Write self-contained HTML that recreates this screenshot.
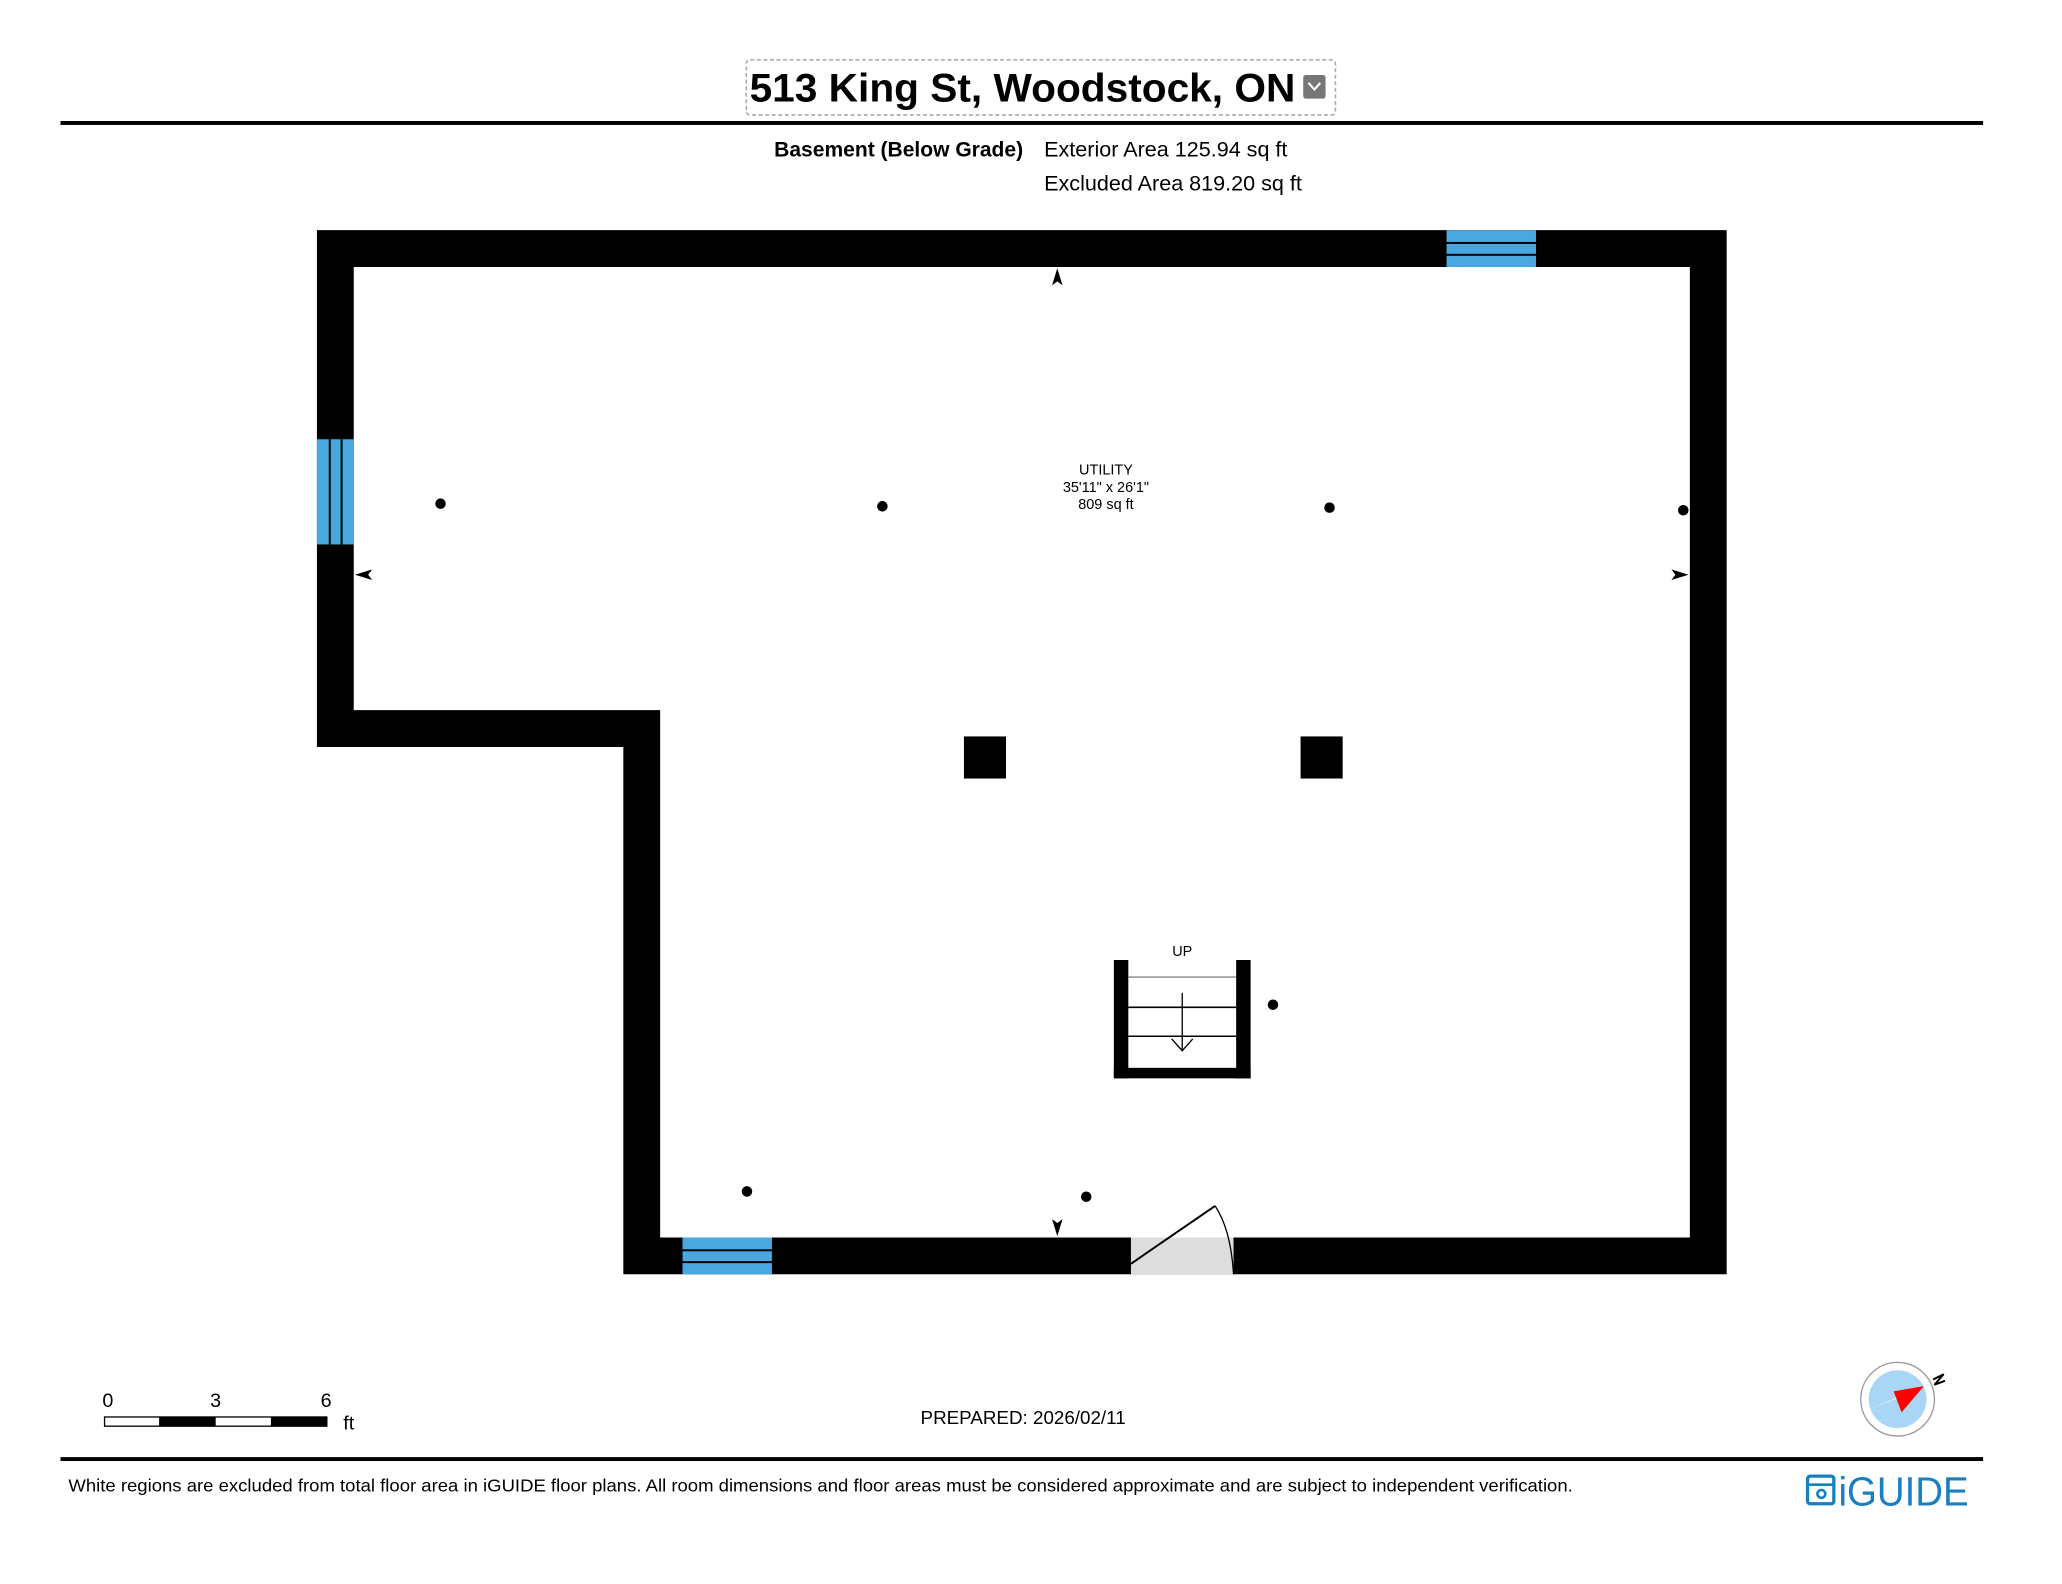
<!DOCTYPE html>
<html><head><meta charset="utf-8"><style>
html,body{margin:0;padding:0;background:#fff;}
svg{display:block;}
text{font-family:"Liberation Sans",Arial,sans-serif;}
</style></head><body>
<svg width="2062" height="1584" viewBox="0 0 1568 1204.5" xmlns="http://www.w3.org/2000/svg">
<rect x="0" y="0" width="1568" height="1204.5" fill="#fff"/>
<!-- header -->
<rect x="567.5" y="45.5" width="448" height="42" rx="3" fill="none" stroke="#aaa" stroke-width="1.2" stroke-dasharray="3,2"/>
<text x="570" y="77" font-size="30" font-weight="bold" textLength="415" lengthAdjust="spacingAndGlyphs" fill="#000">513 King St, Woodstock, ON</text>
<rect x="991" y="57" width="17" height="18" rx="2" fill="#777"/>
<path d="M995 63 L999.5 68 L1004 63" fill="none" stroke="#fff" stroke-width="1.6"/>
<rect x="46" y="92" width="1462" height="3" fill="#000"/>
<text x="778" y="119" font-size="16" font-weight="bold" text-anchor="end">Basement (Below Grade)</text>
<text x="794" y="119" font-size="16" textLength="185" lengthAdjust="spacingAndGlyphs">Exterior Area 125.94 sq ft</text>
<text x="794" y="145" font-size="16" textLength="196" lengthAdjust="spacingAndGlyphs">Excluded Area 819.20 sq ft</text>
<!-- walls -->
<path d="M241 175 H1313 V969 H474 V568 H241 Z M269 203 V540 H502 V941 H1285 V203 Z" fill="#000" fill-rule="evenodd"/>
<!-- windows -->
<rect x="1100" y="175" width="68" height="28" fill="#4aa8e0"/>
<rect x="1100" y="184" width="68" height="1.5" fill="#000"/>
<rect x="1100" y="193" width="68" height="1.5" fill="#000"/>
<rect x="241" y="334" width="28" height="80" fill="#4aa8e0"/>
<rect x="250" y="334" width="1.5" height="80" fill="#000"/>
<rect x="259" y="334" width="1.5" height="80" fill="#000"/>
<rect x="519" y="941" width="68" height="28" fill="#4aa8e0"/>
<rect x="519" y="950" width="68" height="1.5" fill="#000"/>
<rect x="519" y="959" width="68" height="1.5" fill="#000"/>
<!-- door -->
<rect x="860" y="941" width="78" height="28" fill="#ddd"/>
<line x1="860" y1="961" x2="924" y2="917" stroke="#000" stroke-width="1.5"/>
<path d="M924 917 Q936 935 938 969" fill="none" stroke="#000" stroke-width="1"/>
<!-- arrows -->
<path d="M804 204 L808 217 L804 214 L800 217 Z" fill="#000"/>
<path d="M804 940 L808 927 L804 930 L800 927 Z" fill="#000"/>
<path d="M270 437 L283 433 L280 437 L283 441 Z" fill="#000"/>
<path d="M1284 437 L1271 433 L1274 437 L1271 441 Z" fill="#000"/>
<!-- dots -->
<g fill="#000">
<circle cx="335" cy="383" r="4"/><circle cx="671" cy="385" r="4"/><circle cx="1011" cy="386" r="4"/><circle cx="1280" cy="388" r="4"/>
<circle cx="968" cy="764" r="4"/><circle cx="568" cy="906" r="4"/><circle cx="826" cy="910" r="4"/>
<rect x="733" y="560" width="32" height="32"/><rect x="989" y="560" width="32" height="32"/>
</g>
<text x="841" y="361" font-size="11" text-anchor="middle">UTILITY</text>
<text x="841" y="374" font-size="11" text-anchor="middle">35'11" x 26'1"</text>
<text x="841" y="387" font-size="11" text-anchor="middle">809 sq ft</text>
<!-- stairs -->
<text x="899" y="727" font-size="11" text-anchor="middle">UP</text>
<rect x="847" y="730" width="11" height="90" fill="#000"/>
<rect x="940" y="730" width="11" height="90" fill="#000"/>
<rect x="847" y="812" width="104" height="8" fill="#000"/>
<line x1="858" y1="743" x2="940" y2="743" stroke="#888" stroke-width="1"/>
<line x1="858" y1="766" x2="940" y2="766" stroke="#000" stroke-width="1.2"/>
<line x1="858" y1="788" x2="940" y2="788" stroke="#000" stroke-width="1.2"/>
<line x1="899" y1="755" x2="899" y2="799" stroke="#000" stroke-width="1"/>
<path d="M891 790 L899 799 L907 790" fill="none" stroke="#000" stroke-width="1"/>
<!-- scale -->
<text x="82" y="1070" font-size="15" text-anchor="middle">0</text>
<text x="164" y="1070" font-size="15" text-anchor="middle">3</text>
<text x="248" y="1070" font-size="15" text-anchor="middle">6</text>
<rect x="79.5" y="1077.5" width="169" height="7" fill="#fff" stroke="#000" stroke-width="1"/>
<rect x="121" y="1077.5" width="43" height="7" fill="#000"/>
<rect x="206" y="1077.5" width="43" height="7" fill="#000"/>
<text x="261" y="1087" font-size="15">ft</text>
<text x="700" y="1083" font-size="14" textLength="156" lengthAdjust="spacingAndGlyphs">PREPARED: 2026/02/11</text>
<!-- compass -->
<circle cx="1443" cy="1064" r="28" fill="#fff" stroke="#999" stroke-width="1"/>
<circle cx="1443" cy="1064" r="22" fill="#aad6f5"/>
<path d="M1423 1071 L1463 1054 L1441 1064 Z" fill="#fff"/>
<path d="M1463 1054 L1440 1058 L1446 1074 Z" fill="#f00"/>
<path d="M1470 1049 L1478 1045 L1471 1053 L1479 1050" fill="none" stroke="#000" stroke-width="1.5"/>
<!-- footer -->
<rect x="46" y="1108" width="1462" height="3" fill="#000"/>
<text x="52" y="1134" font-size="13" textLength="1144" lengthAdjust="spacingAndGlyphs">White regions are excluded from total floor area in iGUIDE floor plans. All room dimensions and floor areas must be considered approximate and are subject to independent verification.</text>
<rect x="1374.5" y="1122.5" width="20" height="21" rx="2" fill="none" stroke="#1a7fc1" stroke-width="2.5"/>
<line x1="1375" y1="1129" x2="1394" y2="1129" stroke="#1a7fc1" stroke-width="2"/>
<circle cx="1385" cy="1136" r="3" fill="none" stroke="#1a7fc1" stroke-width="2"/>
<text x="1398" y="1145" font-size="31" fill="#1a7fc1" textLength="99" lengthAdjust="spacingAndGlyphs">iGUIDE</text>
</svg>
</body></html>
